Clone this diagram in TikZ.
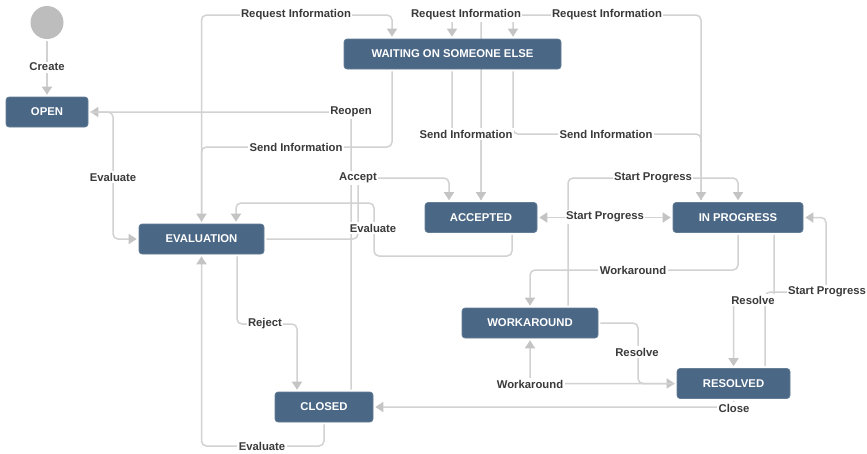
\documentclass[tikz,border=0pt]{standalone}
\usepackage{fontspec}
\setmainfont{Liberation Sans}
\usetikzlibrary{arrows.meta}
\pgfdeclarelayer{edges}
\pgfdeclarelayer{labels}
\pgfsetlayers{edges,main,labels}
\definecolor{stateblue}{HTML}{4A6785}
\definecolor{wire}{HTML}{D2D2D2}
\definecolor{tip}{HTML}{C4C4C4}
\definecolor{lbltext}{HTML}{3A3A3A}
\definecolor{startgray}{HTML}{BDBDBD}
\tikzset{
  >={Triangle[width=10pt,length=8pt,color=tip,fill=tip]},
  state/.style={rectangle, rounded corners=3pt, fill=stateblue, draw=stateblue!85!white,
    line width=0.6pt, text=white, font=\bfseries\fontsize{11.3}{13}\selectfont,
    minimum height=30pt, inner sep=0pt},
  wire/.style={draw=wire, line width=1.5pt, rounded corners=5pt, shorten <=2pt},
  towards/.style={wire, ->, shorten >=2pt},
  twoway/.style={wire, <->, shorten >=2pt},
  lbl/.style={fill=white, text=lbltext, font=\bfseries\fontsize{11.3}{13}\selectfont, inner sep=1.5pt},
}
\begin{document}
\begin{tikzpicture}[x=1pt,y=-1pt]
\useasboundingbox (0,0) rectangle (867,453);

% states
\node[circle, fill=startgray, minimum size=33pt, inner sep=0pt] (start) at (47,22.5) {};
\node[state, minimum width=82pt]  (open)   at (47,112)    {OPEN};
\node[state, minimum width=217pt] (wait)   at (452.5,54)  {WAITING ON SOMEONE ELSE};
\node[state, minimum width=125pt] (eval)   at (201.5,239) {EVALUATION};
\node[state, minimum width=112pt] (acc)    at (481,217.5) {ACCEPTED};
\node[state, minimum width=130pt] (prog)   at (738,217.5) {IN PROGRESS};
\node[state, minimum width=136pt] (wka)    at (530,323)   {WORKAROUND};
\node[state, minimum width=113pt] (res)    at (733.5,383.5) {RESOLVED};
\node[state, minimum width=98pt]  (closed) at (324,407)   {CLOSED};

% transitions
\begin{pgfonlayer}{edges}
\fill[white] (0,0) rectangle (867,453);
\draw[towards] (start) -- (open);
% request / send information
\draw[towards] (eval.north) -- (eval.north |- 0,15) -- (392,15) -- (wait.north -| 392,0);
\draw[towards] (wait.south -| 392,0) -- (392,147) -- (eval.north |- 0,147) -- (eval.north);
\draw[towards] (acc.north) -- (acc.north |- 0,15) -- (452,15) -- (wait.north -| 452,0);
\draw[towards] (wait.south -| 452,0) -- (452,134) -- (acc.north |- 0,134) -- (acc.north);
\draw[towards] (prog.north -| 701,0) -- (701,15) -- (513,15) -- (wait.north -| 513,0);
\draw[towards] (wait.south -| 513,0) -- (513,134) -- (701,134) -- (prog.north -| 701,0);
% open / evaluation / closed
\draw[towards] (closed.north -| 351,0) -- (351,112) -- (open.east);
\draw[towards] (open.east) -- (113,112) -- (113,239) -- (eval.west);
\draw[towards] (eval.east) -- (358,239) -- (358,178) -- (449,178) -- (acc.north -| 449,0);
\draw[towards] (acc.south -| 512,0) -- (512,256) -- (374,256) -- (374,203) -- (236,203) -- (eval.north -| 236,0);
\draw[towards] (eval.south -| 237,0) -- (237,324) -- (297,324) -- (closed.north -| 297,0);
\draw[towards] (closed.south) -- (closed.south |- 0,446) -- (eval.south |- 0,446) -- (eval.south);
% progress / workaround / resolved
\draw[twoway] (acc.east) -- (prog.west);
\draw[towards] (wka.north -| 568,0) -- (568,178) -- (prog.north |- 0,178) -- (prog.north);
\draw[towards] (prog.south) -- (prog.south |- 0,270) -- (wka.north |- 0,270) -- (wka.north);
\draw[towards] (prog.south -| 774,0) -- (774,299) -- (res.north |- 0,299) -- (res.north);
\draw[towards] (res.north -| 765,0) -- (765,292) -- (826,292) -- (826,217.5) -- (prog.east);
\draw[towards] (wka.east) -- (638,323) -- (638,383.5) -- (res.west);
\draw[towards] (res.west) -- (wka.south |- 0,383.5) -- (wka.south);
\draw[towards] (res.south) -- (res.south |- 0,407) -- (closed.east);
\end{pgfonlayer}

% transition names
\begin{pgfonlayer}{labels}
\node[lbl] (tcreate) at (47,67) {Create};
\node[lbl] (treq1) at (296,15) {Request Information};
\node[lbl] (treq2) at (466,15) {Request Information};
\node[lbl] (treq3) at (607,15) {Request Information};
\node[lbl] (tsend1) at (296,147) {Send Information};
\node[lbl] (tsend2) at (466,134) {Send Information};
\node[lbl] (tsend3) at (606,134) {Send Information};
\node[lbl] (treopen) at (351,112) {Reopen};
\node[lbl] (teval1) at (113,177) {Evaluate};
\node[lbl] (taccept) at (358,178) {Accept};
\node[lbl] (teval2) at (373,228) {Evaluate};
\node[lbl] (tstart1) at (605,217) {Start Progress};
\node[lbl] (tstart2) at (653,178) {Start Progress};
\node[lbl] (tstart3) at (827,292) {Start Progress};
\node[lbl] (twork1) at (633,270) {Workaround};
\node[lbl] (twork2) at (530,384) {Workaround};
\node[lbl] (tres1) at (753,300) {Resolve};
\node[lbl] (tres2) at (637,352) {Resolve};
\node[lbl] (tclose) at (734,408) {Close};
\node[lbl] (treject) at (265,324) {Reject};
\node[lbl] (teval3) at (262,446) {Evaluate};
\end{pgfonlayer}
\end{tikzpicture}
\end{document}
